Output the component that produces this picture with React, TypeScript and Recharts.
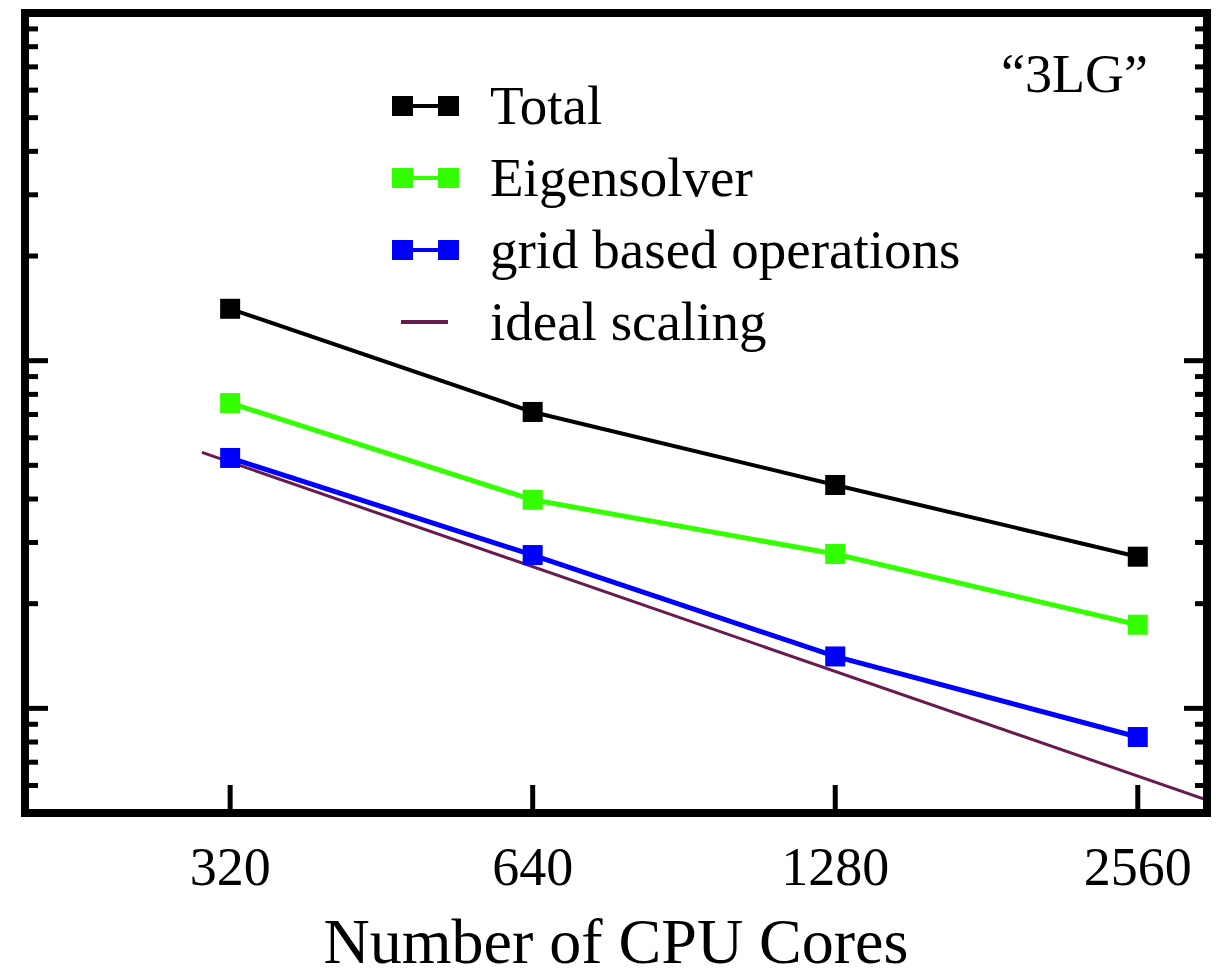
import { LineChart, Line, XAxis, YAxis, Legend, Customized } from "recharts";

// timing per run (log scale, arbitrary units) vs. number of cores
const cores = [320, 640, 1280, 2560];
const totalTime = [14.1, 7.12, 4.39, 2.73];
const eigenTime = [7.55, 3.98, 2.78, 1.74];
const gridTime = [5.25, 2.76, 1.41, 0.827];

// ideal 1/N scaling reference line
const idealCores = [300, 3000];
const idealTime = [5.45, 0.545];

const xTicks = [320, 640, 1280, 2560];
const yTicks = [0.6, 0.7, 0.8, 0.9, 1, 2, 3, 4, 5, 6, 7, 8, 9, 10, 20, 30, 40, 50, 60, 70, 80, 90];

const FONT = '"Liberation Serif", "Times New Roman", serif';

const rows = cores.map((c, i) => ({
    cores: c,
    total: totalTime[i],
    eigen: eigenTime[i],
    grid: gridTime[i],
}));
const idealRows = idealCores.map((c, i) => ({ cores: c, ideal: idealTime[i] }));

const series = [
    { key: "total", name: "Total", color: "#000000", width: 4 },
    { key: "eigen", name: "Eigensolver", color: "#33ff00", width: 5 },
    { key: "grid", name: "grid based operations", color: "#0000ff", width: 5 },
];
const IDEAL_COLOR = "#6b1a50";
const legendOrder = [...series.map((s) => s.key), "ideal"];

const isDecade = (v: number) => Math.abs(Math.log10(v) - Math.round(Math.log10(v))) < 1e-9;

const LeftTick = ({ x, y, payload }: any) => (
    <line x1={x} y1={y} x2={x + (isDecade(payload.value) ? 23 : 13)} y2={y} stroke="#000" strokeWidth={5} />
);

const RightTick = ({ x, y, payload }: any) => (
    <line x1={x} y1={y} x2={x - (isDecade(payload.value) ? 23 : 12)} y2={y} stroke="#000" strokeWidth={5} />
);

const BottomTick = ({ x, y, payload }: any) => (
    <g>
        <line x1={x} y1={y} x2={x} y2={y - 28} stroke="#000" strokeWidth={5} />
        <text x={x} y={y + 72} textAnchor="middle" fontFamily={FONT} fontSize={54} fill="#000">
            {payload.value}
        </text>
    </g>
);

const SquareDot = (color: string) => (p: any) =>
    <rect key={p.index} x={p.cx - 10} y={p.cy - 10} width={20} height={20} fill={color} />;

const LegendContent = ({ payload }: any) => {
    const items = [...(payload || [])].sort(
        (a: any, b: any) => legendOrder.indexOf(a.dataKey) - legendOrder.indexOf(b.dataKey)
    );
    return (
        <div style={{ fontFamily: FONT, fontSize: 55, lineHeight: "72px", color: "#000" }}>
            {items.map((entry: any) => {
                const ideal = entry.dataKey === "ideal";
                return (
                    <div key={entry.value} style={{ display: "flex", alignItems: "center", height: 72 }}>
                        <svg width={75} height={72} style={{ display: "block" }}>
                            {ideal ? (
                                <line x1={13} y1={36} x2={60} y2={36} stroke={entry.color} strokeWidth={4} />
                            ) : (
                                <g fill={entry.color}>
                                    <line x1={20} y1={36} x2={55} y2={36} stroke={entry.color} strokeWidth={4} />
                                    <rect x={4} y={26} width={21} height={20} />
                                    <rect x={50} y={26} width={21} height={20} />
                                </g>
                            )}
                        </svg>
                        <span style={{ marginLeft: 27, whiteSpace: "nowrap" }}>{entry.value}</span>
                    </div>
                );
            })}
        </div>
    );
};

const frame = { stroke: "#000", strokeWidth: 8, strokeLinecap: "square" as const };

export default function App() {
    return (
        <div style={{ position: "absolute", left: 0, top: 0, background: "#fff" }}>
            <LineChart width={1227} height={974} margin={{ top: 12, right: 19, bottom: 0, left: 24 }}>
                <XAxis
                    dataKey="cores"
                    type="number"
                    scale="log"
                    domain={[200, 3000]}
                    allowDataOverflow
                    ticks={xTicks}
                    interval={0}
                    height={161}
                    tickSize={0}
                    tickMargin={0}
                    tickLine={false}
                    axisLine={frame}
                    tick={<BottomTick />}
                    label={(props: any) => {
                        const vb = props.viewBox;
                        return (
                            <text
                                x={vb.x + vb.width / 2}
                                y={vb.y + 150}
                                textAnchor="middle"
                                fontFamily={FONT}
                                fontSize={64}
                                fill="#000"
                            >
                                Number of CPU Cores
                            </text>
                        );
                    }}
                />
                <XAxis
                    xAxisId="top"
                    orientation="top"
                    dataKey="cores"
                    type="number"
                    scale="log"
                    domain={[200, 3000]}
                    allowDataOverflow
                    height={1}
                    tick={false}
                    tickLine={false}
                    axisLine={frame}
                />
                <YAxis
                    yAxisId="left"
                    type="number"
                    scale="log"
                    domain={[0.5, 100]}
                    allowDataOverflow
                    ticks={yTicks}
                    interval={0}
                    width={1}
                    tickSize={0}
                    tickMargin={0}
                    tickLine={false}
                    axisLine={frame}
                    tick={<LeftTick />}
                />
                <YAxis
                    yAxisId="right"
                    orientation="right"
                    type="number"
                    scale="log"
                    domain={[0.5, 100]}
                    allowDataOverflow
                    ticks={yTicks}
                    interval={0}
                    width={1}
                    tickSize={0}
                    tickMargin={0}
                    tickLine={false}
                    axisLine={frame}
                    tick={<RightTick />}
                />
                {series.map((s) => (
                    <Line
                        key={s.key}
                        yAxisId="left"
                        data={rows}
                        dataKey={s.key}
                        name={s.name}
                        type="linear"
                        stroke={s.color}
                        strokeWidth={s.width}
                        dot={SquareDot(s.color)}
                        activeDot={false}
                        isAnimationActive={false}
                    />
                ))}
                <Line
                    yAxisId="left"
                    data={idealRows}
                    dataKey="ideal"
                    name="ideal scaling"
                    type="linear"
                    stroke={IDEAL_COLOR}
                    strokeWidth={3}
                    dot={false}
                    activeDot={false}
                    isAnimationActive={false}
                />
                <Legend
                    layout="vertical"
                    align="center"
                    verticalAlign="middle"
                    content={<LegendContent />}
                    wrapperStyle={{ left: 388, top: 70, width: 620, height: 288 }}
                />
                <Customized
                    component={() => (
                        <text x={1148} y={92} textAnchor="end" fontFamily={FONT} fontSize={54} fill="#000">
                            “3LG”
                        </text>
                    )}
                />
            </LineChart>
        </div>
    );
}
